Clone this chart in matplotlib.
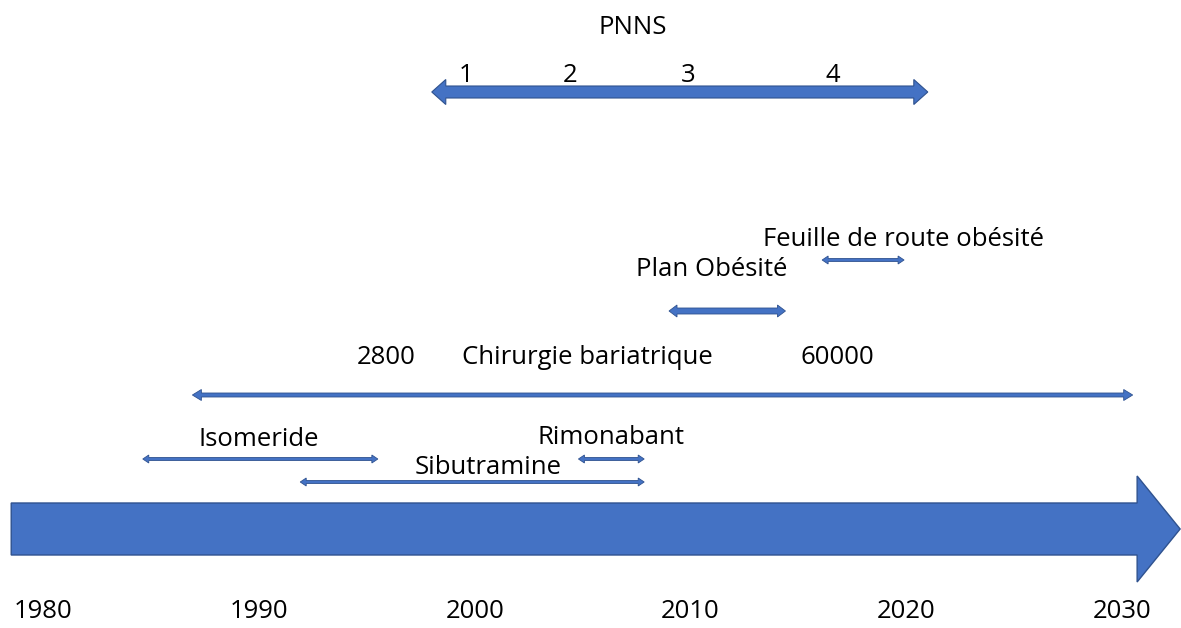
import matplotlib
matplotlib.use("Agg")
import matplotlib.pyplot as plt
from matplotlib.patches import Polygon

plt.rcParams['font.family'] = ['Open Sans', 'DejaVu Sans']

# ---- data ----
tick_years = [1980, 1990, 2000, 2010, 2020, 2030]
timeline_start, timeline_end = 1978.5, 2032.7

pnns_label_year = 2007.3
pnns_span = (1998.0, 2021.0)
pnns_numbers = ["1", "2", "3", "4"]
pnns_number_years = [1999.6, 2004.4, 2009.9, 2016.6]

period_names = ["Feuille de route obésité", "Plan Obésité", "Chirurgie bariatrique",
                "Isomeride", "Rimonabant", "Sibutramine"]
period_starts = [2016.1, 2009.0, 1986.9, 1984.6, 2004.8, 1991.9]
period_ends = [2019.9, 2014.4, 2030.5, 1995.5, 2007.85, 2007.85]
label_years = [2019.85, 2011.0, 2005.2, 1990.0, 2006.3, 2000.6]

bariatric_counts = ["2800", "60000"]
bariatric_count_years = [1995.9, 2016.8]

# ---- layout / style ----
W, H = 1181, 628
FILL = "#4472C4"
EDGE = "#2F528F"
FS = 18.5

fig = plt.figure(figsize=(W / 100, H / 100), dpi=100)
ax = fig.add_axes([0, 0, 1, 1])
xmin, xmax = 1977.98, 2032.74
ax.set_xlim(xmin, xmax)
ax.set_ylim(H, 0)
ax.axis("off")
px = (xmax - xmin) / W  # years per pixel


def double_arrow(x0, x1, y, body, head, hlen_px, lw=0.8):
    hl = hlen_px * px
    b, h = body / 2, head / 2
    pts = [(x0, y), (x0 + hl, y - h), (x0 + hl, y - b), (x1 - hl, y - b),
           (x1 - hl, y - h), (x1, y), (x1 - hl, y + h), (x1 - hl, y + b),
           (x0 + hl, y + b), (x0 + hl, y + h)]
    ax.add_patch(Polygon(pts, closed=True, facecolor=FILL, edgecolor=EDGE, lw=lw))


# big timeline arrow
y0, body, head = 529, 52, 106
head_len = 43 * px
pts = [(timeline_start, y0 - body / 2), (timeline_end - head_len, y0 - body / 2),
       (timeline_end - head_len, y0 - head / 2), (timeline_end, y0),
       (timeline_end - head_len, y0 + head / 2), (timeline_end - head_len, y0 + body / 2),
       (timeline_start, y0 + body / 2)]
ax.add_patch(Polygon(pts, closed=True, facecolor=FILL, edgecolor=EDGE, lw=1.0))

for yr in tick_years:
    ax.text(yr, 612, str(yr), ha="center", va="center", fontsize=FS)

# PNNS
ax.text(pnns_label_year, 28, "PNNS", ha="center", va="center", fontsize=FS)
double_arrow(pnns_span[0], pnns_span[1], 92, 12, 25, 14)
for lab, yr in zip(pnns_numbers, pnns_number_years):
    ax.text(yr, 75, lab, ha="center", va="center", fontsize=FS)

# periods
arrow_y = [260, 311, 395, 459, 459, 482]
text_y = [240, 270, 357, 439, 438, 468]
bodies = [3, 6, 4, 3, 3, 3]
heads = [8, 12, 11, 8, 8, 8]
hlens = [6, 8, 9, 6, 6, 6]
for name, s, e, ly, ay, ty, b, h, hl in zip(period_names, period_starts, period_ends,
                                              label_years, arrow_y, text_y, bodies, heads, hlens):
    double_arrow(s, e, ay, b, h, hl, lw=0.6)
    ax.text(ly, ty, name, ha="center", va="center", fontsize=FS)

for lab, yr in zip(bariatric_counts, bariatric_count_years):
    ax.text(yr, 357, lab, ha="center", va="center", fontsize=FS)

fig.savefig("out.png", dpi=100)
